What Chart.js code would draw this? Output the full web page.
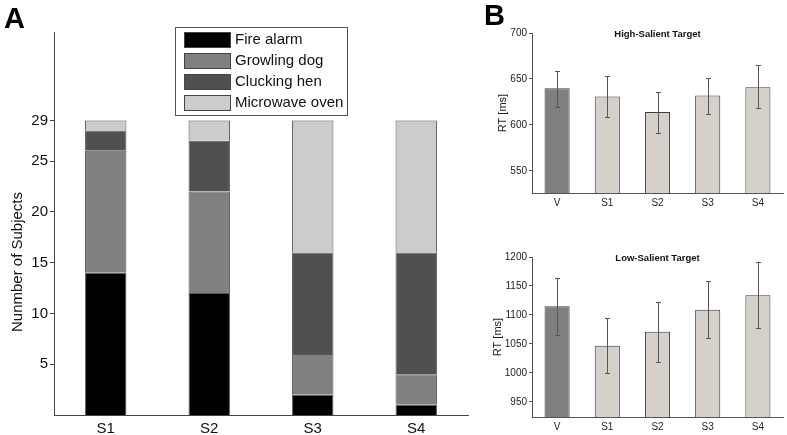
<!DOCTYPE html>
<html>
<head>
<meta charset="utf-8">
<script src="https://cdn.jsdelivr.net/npm/chart.js@4/dist/chart.umd.min.js"></script>
<style>
body { margin: 0; background: #fff; }
#wrap { position: relative; width: 787px; height: 435px; overflow: hidden; font-family: "Liberation Sans", Arial, sans-serif; }
canvas { position: absolute; }
.panel { position: absolute; font-weight: bold; font-size: 29px; line-height: 1; color: #000; }
</style>
</head>
<body>
<div id="wrap">
  <canvas id="chartA" width="475" height="435" style="left:0;top:0"></canvas>
  <canvas id="chartB1" width="307" height="215" style="left:480px;top:0"></canvas>
  <canvas id="chartB2" width="307" height="220" style="left:480px;top:215px"></canvas>
  <div class="panel" style="left:4px;top:4px">A</div>
  <div class="panel" style="left:484px;top:1px">B</div>
</div>
<script>
// panel A - number of subjects per sound
const categoriesA = ['S1', 'S2', 'S3', 'S4'];
const fireAlarm = [14, 12, 2, 1];
const growlingDog = [12, 10, 4, 3];
const cluckingHen = [2, 5, 10, 12];
const microwaveOven = [1, 2, 13, 13];
const tickValuesA = [5, 10, 15, 20, 25, 29];

// panel B - reaction times (mean and error bar ends)
const categoriesB = ['V', 'S1', 'S2', 'S3', 'S4'];
const highMean = [640, 631, 614, 632, 641];
const highLo = [620, 609, 591, 612, 618];
const highHi = [659, 653, 636, 651, 665];
const highTicks = [550, 600, 650, 700];
const lowMean = [1115, 1047, 1071, 1109, 1134];
const lowLo = [1065, 1000, 1019, 1060, 1077];
const lowHi = [1164, 1094, 1122, 1158, 1191];
const lowTicks = [950, 1000, 1050, 1100, 1150, 1200];

const FONT = '"Liberation Sans", Arial, sans-serif';
const axisColor = '#444';

// legend box drawn inside panel A, like the matlab one
const boxLegend = {
    id: 'boxLegend',
    afterDraw(chart) {
        const ctx = chart.ctx;
        ctx.save();
        ctx.fillStyle = '#fff';
        ctx.fillRect(175.5, 27.5, 172, 88);
        ctx.strokeStyle = '#555';
        ctx.lineWidth = 1;
        ctx.strokeRect(175.5, 27.5, 172, 88);
        ctx.font = '15px ' + FONT;
        ctx.textBaseline = 'middle';
        chart.data.datasets.forEach((ds, i) => {
            const yc = 39 + i * 21;
            ctx.fillStyle = ds.backgroundColor;
            ctx.fillRect(184, yc - 7, 46, 15);
            ctx.strokeStyle = '#444';
            ctx.strokeRect(184.5, yc - 6.5, 46, 15);
            ctx.fillStyle = '#111';
            ctx.fillText(ds.label, 235, yc + 1);
        });
        ctx.restore();
    }
};

const sideTitle = {
    id: 'sideTitle',
    afterDraw(chart, args, opts) {
        const ctx = chart.ctx;
        ctx.save();
        ctx.translate(opts.x, opts.y);
        ctx.rotate(-Math.PI / 2);
        ctx.font = '15px ' + FONT;
        ctx.fillStyle = '#111';
        ctx.textAlign = 'center';
        ctx.textBaseline = 'middle';
        ctx.fillText(opts.text, 0, 0);
        ctx.restore();
    }
};

const innerTitle = {
    id: 'innerTitle',
    afterDraw(chart, args, opts) {
        const ctx = chart.ctx;
        const a = chart.chartArea;
        ctx.save();
        ctx.font = 'bold 9.5px ' + FONT;
        ctx.fillStyle = '#111';
        ctx.textAlign = 'center';
        ctx.textBaseline = 'middle';
        ctx.fillText(opts.text, (a.left + a.right) / 2, a.top + 1);
        ctx.restore();
    }
};

const errorBars = {
    id: 'errorBars',
    afterDatasetsDraw(chart, args, opts) {
        const meta = chart.getDatasetMeta(0);
        const y = chart.scales.y;
        const ctx = chart.ctx;
        ctx.save();
        ctx.strokeStyle = '#555';
        ctx.lineWidth = 1;
        meta.data.forEach((bar, i) => {
            const x = Math.round(bar.x) + 0.5;
            const top = Math.round(y.getPixelForValue(opts.hi[i])) + 0.5;
            const bot = Math.round(y.getPixelForValue(opts.lo[i])) + 0.5;
            ctx.beginPath();
            ctx.moveTo(x, top); ctx.lineTo(x, bot);
            ctx.moveTo(x - 2.5, top); ctx.lineTo(x + 2.5, top);
            ctx.moveTo(x - 2.5, bot); ctx.lineTo(x + 2.5, bot);
            ctx.stroke();
        });
        ctx.restore();
    }
};

new Chart(document.getElementById('chartA').getContext('2d'), {
    type: 'bar',
    data: {
        labels: categoriesA,
        datasets: [
            { label: 'Fire alarm', data: fireAlarm, backgroundColor: '#000000' },
            { label: 'Growling dog', data: growlingDog, backgroundColor: '#808080' },
            { label: 'Clucking hen', data: cluckingHen, backgroundColor: '#505050' },
            { label: 'Microwave oven', data: microwaveOven, backgroundColor: '#cccccc' }
        ].map(d => Object.assign(d, { borderColor: '#555', borderWidth: 1, barPercentage: 0.4, categoryPercentage: 1 }))
    },
    options: {
        responsive: false,
        animation: false,
        layout: { padding: { top: 32, right: 7, left: 0, bottom: 0 } },
        plugins: {
            legend: { display: false },
            tooltip: { enabled: false },
            sideTitle: { text: 'Nunmber of Subjects', x: 18, y: 262 }
        },
        scales: {
            x: {
                stacked: true,
                grid: { display: false, drawTicks: false },
                border: { color: axisColor },
                ticks: { color: '#111', font: { size: 15, family: FONT }, padding: 5 },
                afterFit(s) { s.height = 20; }
            },
            y: {
                stacked: true,
                min: 0,
                max: 37.7,
                afterBuildTicks(s) { s.ticks = tickValuesA.map(v => ({ value: v })); },
                grid: { drawOnChartArea: false, tickLength: 4, color: axisColor },
                border: { color: axisColor },
                ticks: { color: '#111', font: { size: 15, family: FONT }, padding: 2, callback: v => String(v) },
                afterFit(s) { s.width = 54; }
            }
        }
    },
    plugins: [boxLegend, sideTitle]
});

function drawRT(domID, mean, lo, hi, ticks, yMin, yMax, title, padTop, xHeight, titlePad) {
    var ctx = document.getElementById(domID).getContext('2d');
    return new Chart(ctx, {
        type: 'bar',
        data: {
            labels: categoriesB,
            datasets: [{
                data: mean,
                backgroundColor: categoriesB.map(c => c === 'V' ? '#7f7f7f' : '#d5d1ca'),
                borderColor: '#3c3c3c',
                borderWidth: 1,
                barPercentage: 0.5,
                categoryPercentage: 1
            }]
        },
        options: {
            responsive: false,
            animation: false,
            layout: { padding: { top: padTop, right: 4, left: 0, bottom: 0 } },
            plugins: {
                legend: { display: false },
                tooltip: { enabled: false },
                innerTitle: { text: title },
                errorBars: { lo: lo, hi: hi }
            },
            scales: {
                x: {
                    grid: { display: false, drawTicks: false },
                    border: { color: '#555' },
                    ticks: { color: '#222', font: { size: 10, family: FONT }, padding: 4 },
                    afterFit(s) { s.height = xHeight; }
                },
                y: {
                    min: yMin,
                    max: yMax,
                    afterBuildTicks(s) { s.ticks = ticks.map(v => ({ value: v })); },
                    grid: { drawOnChartArea: false, tickLength: 3, color: '#555' },
                    border: { color: '#555' },
                    ticks: { color: '#222', font: { size: 10, family: FONT }, padding: 2, callback: v => String(v) },
                    title: { display: true, text: 'RT [ms]', color: '#222', font: { size: 11, family: FONT }, padding: { top: titlePad, bottom: 0 } },
                    afterFit(s) { s.width = 52; }
                }
            }
        },
        plugins: [innerTitle, errorBars]
    });
}

drawRT('chartB1', highMean, highLo, highHi, highTicks, 526, 700, 'High-Salient Target', 33, 22, 16);
drawRT('chartB2', lowMean, lowLo, lowHi, lowTicks, 924, 1200, 'Low-Salient Target', 42, 18, 11);
</script>
</body>
</html>
